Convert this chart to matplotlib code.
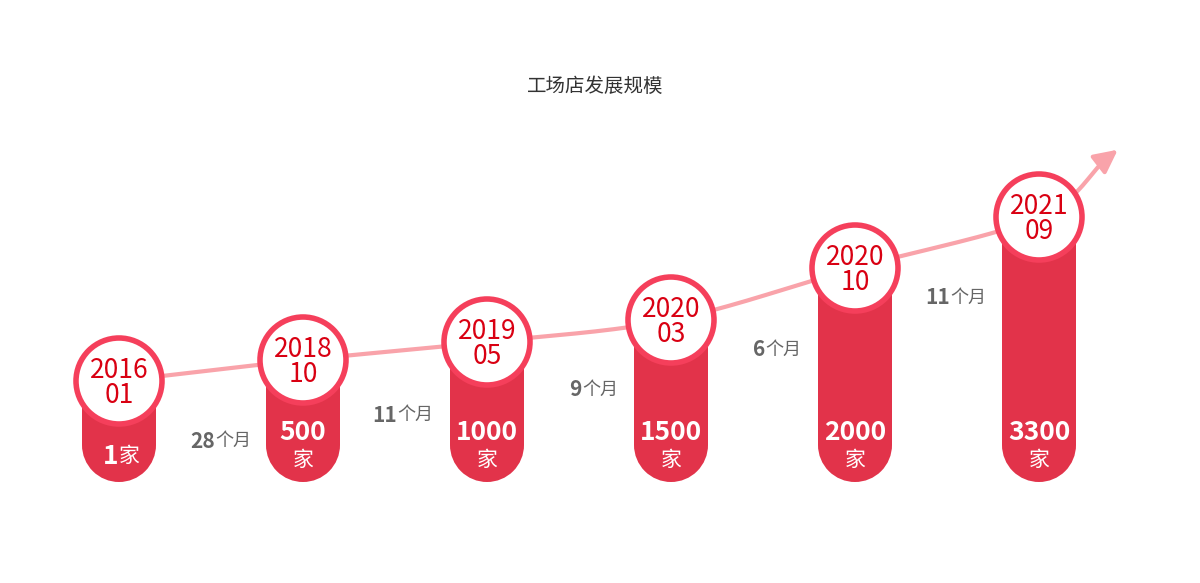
import numpy as np
import matplotlib
matplotlib.use("Agg")
import matplotlib.pyplot as plt
from matplotlib.patches import Rectangle, Wedge, Circle

plt.rcParams['font.family'] = ['Noto Sans CJK SC', 'DejaVu Sans']

title = "工场店发展规模"
years = ["2016\n01", "2018\n10", "2019\n05", "2020\n03", "2020\n10", "2021\n09"]
stores = ["1", "500", "1000", "1500", "2000", "3300"]
gaps = ["28", "11", "9", "6", "11"]
# level of each milestone (pixel-height scale of the picture, from the baseline)
levels = [101, 122, 140, 162, 214, 265]

W, H = 1200, 583
fig = plt.figure(figsize=(12, 5.83), dpi=100)
ax = fig.add_axes([0, 0, 1, 1])
ax.set_xlim(0, W); ax.set_ylim(H, 0); ax.axis('off')

base = 482
xs = 119 + 184 * np.arange(len(years))
ys = base - np.array(levels)
bw = 74
r = bw / 2
bar_c = '#e2334a'

px = list(xs) + [1110]
py = list(ys) + [155]
P = np.array([px, py]).T
P = np.vstack([P[0] - (P[1] - P[0]), P, P[-1] + (P[-1] - P[-2])])
cx, cy = [], []
for i in range(1, len(P) - 2):
    p0, p1, p2, p3 = P[i-1], P[i], P[i+1], P[i+2]
    for t in np.linspace(0, 1, 30):
        pt = 0.5 * ((2*p1) + (-p0+p2)*t + (2*p0-5*p1+4*p2-p3)*t**2 + (-p0+3*p1-3*p2+p3)*t**3)
        cx.append(pt[0]); cy.append(pt[1])
ax.plot(cx, cy, color='#f9a3aa', lw=3, zorder=1, solid_capstyle='round')
ax.annotate('', xy=(1120, 148), xytext=(cx[-3], cy[-3]),
            arrowprops=dict(arrowstyle='-|>,head_length=1.4,head_width=0.7', color='#f9a3aa', lw=3), zorder=1)

for x, y, yr, s in zip(xs, ys, years, stores):
    ax.add_patch(Rectangle((x - r, y), bw, base - r - y, color=bar_c, zorder=2, lw=0))
    ax.add_patch(Wedge((x, base - r), r, 0, 180, color=bar_c, zorder=2, lw=0))
    ax.add_patch(Circle((x, y), 43, facecolor='white', edgecolor='#f53f5b', lw=4, zorder=3))
    ax.text(x, y + 2, yr, ha='center', va='center', fontsize=19, color='#d90012',
            linespacing=0.95, weight='medium', zorder=4)
    if s == "1":
        ax.text(x - 8, 456, s, ha='center', va='center', fontsize=19, color='white', weight='bold', zorder=4)
        ax.text(x + 10, 456, "家", ha='center', va='center', fontsize=15, color='white', zorder=4)
    else:
        ax.text(x, 432, s, ha='center', va='center', fontsize=19, color='white', weight='bold', zorder=4)
        ax.text(x, 460, "家", ha='center', va='center', fontsize=15, color='white', zorder=4)

gpos = [(215, 441), (397, 415), (582, 390), (765, 350), (950, 298)]
for (gx, gy), g in zip(gpos, gaps):
    ax.text(gx, gy, g, ha='right', va='center', fontsize=15, color='#666666', weight='bold')
    ax.text(gx, gy, "个月", ha='left', va='center', fontsize=13, color='#666666')

ax.text(595, 86, title, ha='center', va='center', fontsize=14, color='#333333')
fig.savefig('out.png', dpi=100)
